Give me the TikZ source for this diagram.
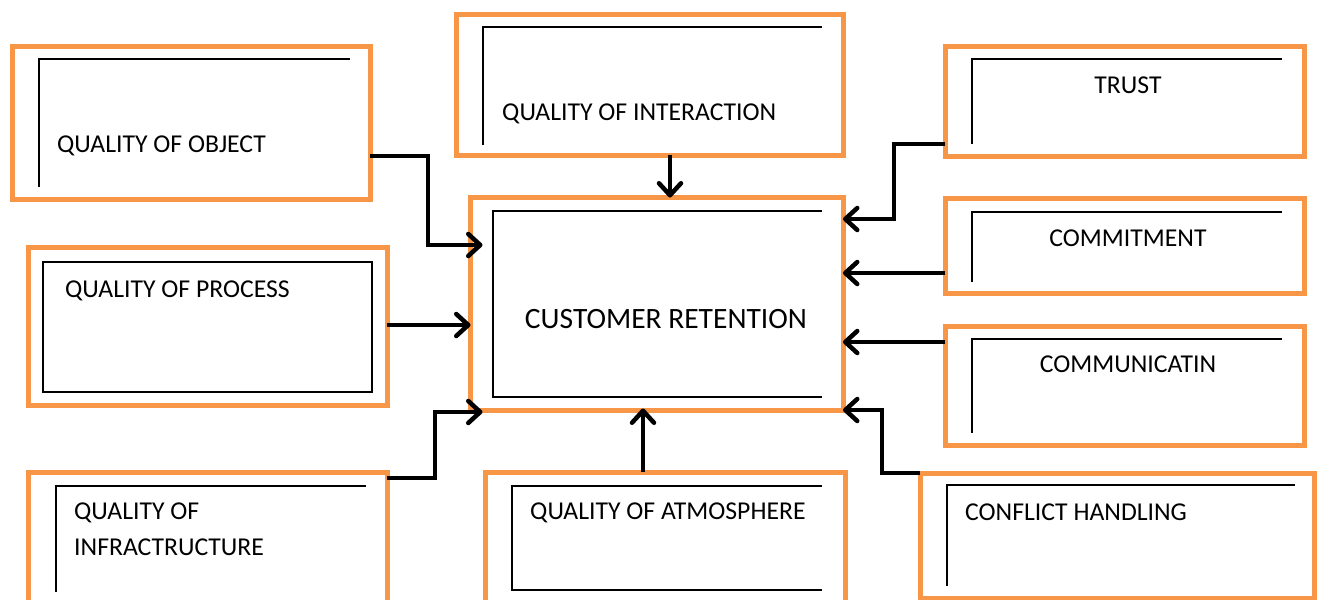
\documentclass[tikz,border=0pt]{standalone}
\usepackage{fontspec}
\setmainfont{Carlito}
\usetikzlibrary{arrows.meta, positioning, calc}
\definecolor{boxorange}{HTML}{F79646}

\begin{document}
\begin{tikzpicture}[
    x=1pt, y=-1pt,
    obox/.style={draw=boxorange, line width=5pt, inner sep=0pt, outer sep=0pt},
    innerline/.style={black, line width=1.3pt},
    conn/.style={line width=4.5pt, -{Straight Barb[length=12pt, width=22pt, round]}},
    lbl/.style={font=\fontsize{25.7}{36}\selectfont, inner sep=0pt},
]
\useasboundingbox (0,0) rectangle (1318,600);

% Outer orange boxes
\node[obox, minimum width=357.5pt, minimum height=153pt] (obj) at (191.25,123) {};
\node[obox, minimum width=387pt, minimum height=140.5pt] (inter) at (649.5,84.75) {};
\node[obox, minimum width=359pt, minimum height=109.5pt] (trust) at (1124.5,101.25) {};
\node[obox, minimum width=359pt, minimum height=95pt] (commit) at (1124.5,245.5) {};
\node[obox, minimum width=359pt, minimum height=119pt] (commu) at (1124.5,385.5) {};
\node[obox, minimum width=358.5pt, minimum height=158.5pt] (proc) at (207.75,326.25) {};
\node[obox, minimum width=372.5pt, minimum height=213pt] (ret) at (656.75,304) {};
\node[obox, minimum width=358.5pt, minimum height=180pt] (infra) at (207.75,562) {};
\node[obox, minimum width=360pt, minimum height=180pt] (atmo) at (665,562) {};
\node[obox, minimum width=394pt, minimum height=125pt] (confl) at (1117,535.5) {};

% Inner black frames
\draw[innerline] (350,59) -- (39,59) -- (39,187);
\draw[innerline] (822,27) -- (483,27) -- (483,145);
\draw[innerline] (1282,59) -- (972,59) -- (972,144);
\draw[innerline] (1282,212) -- (972,212) -- (972,282);
\draw[innerline] (1282,339) -- (972,339) -- (972,433);
\draw[innerline] (43,262) rectangle (372,392);
\draw[innerline] (822,211) -- (493,211) -- (493,397) -- (822,397);
\draw[innerline] (366,486) -- (56,486) -- (56,592);
\draw[innerline] (822,486) -- (512,486) -- (512,590) -- (822,590);
\draw[innerline] (1295,485) -- (947,485) -- (947,586);

% Labels
\node[lbl, anchor=base west] (objtxt) at (57,152) {QUALITY OF OBJECT};
\node[lbl, anchor=base west] (intertxt) at (502,120) {QUALITY OF INTERACTION};
\node[lbl, anchor=base] (trusttxt) at (1128,93) {TRUST};
\node[lbl, anchor=base] (committxt) at (1128,246) {COMMITMENT};
\node[lbl, anchor=base] (commutxt) at (1128,372) {COMMUNICATIN};
\node[lbl, anchor=base west] (proctxt) at (65,297) {QUALITY OF PROCESS};
\node[lbl, anchor=west, align=left] (infratxt) at (74,529) {QUALITY OF\\INFRACTRUCTURE};
\node[lbl, anchor=base west] (atmotxt) at (530,519) {QUALITY OF ATMOSPHERE};
\node[lbl, anchor=base west] (confltxt) at (965,520) {CONFLICT HANDLING};
\node[lbl, anchor=base, font=\fontsize{29.5}{36}\selectfont] (rettxt) at (666,328) {CUSTOMER RETENTION};

% Connectors into the centre box
\draw[conn] (obj.east |- 0,156) -| (428,245) -- ($(ret.west |- 0,245)+(12,0)$);
\draw[conn] (inter.south -| 670,0) -- (ret.north -| 670,0);
\draw[conn] (proc.east |- 0,325) -- (ret.west |- 0,325);
\draw[conn] (infra.east |- 0,478) -| (435,412) -- ($(ret.west |- 0,412)+(12,0)$);
\draw[conn] (atmo.north -| 643,0) -- ($(ret.south -| 643,0)+(0,-2)$);
\draw[conn] (trust.west |- 0,144) -| (894,219) -- (ret.east |- 0,219);
\draw[conn] (commit.west |- 0,273) -- (ret.east |- 0,273);
\draw[conn] (commu.west |- 0,342) -- (ret.east |- 0,342);
\draw[conn] (confl.north west) -| (882,410) -- (ret.east |- 0,410);

\end{tikzpicture}
\end{document}
